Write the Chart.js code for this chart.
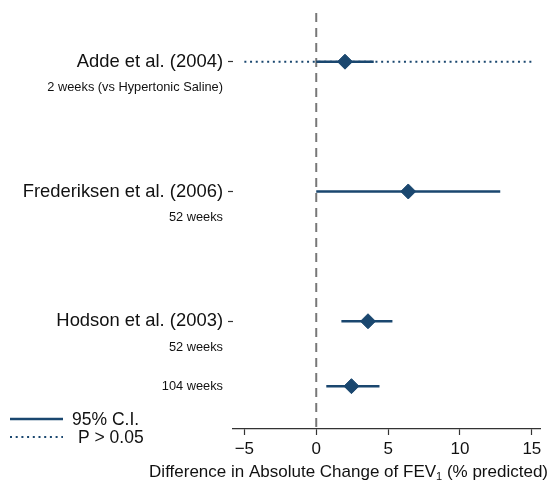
<!DOCTYPE html>
<html>
<head>
<meta charset="utf-8">
<script src="https://cdn.jsdelivr.net/npm/chart.js@4/dist/chart.umd.min.js"></script>
<style>
  html, body { margin: 0; padding: 0; background: #fff; }
  canvas { display: block; }
</style>
</head>
<body>
<canvas id="forest" width="549" height="482"></canvas>
<script>
// ---- data -------------------------------------------------------------
const studies      = ['Adde et al. (2004)', 'Frederiksen et al. (2006)', 'Hodson et al. (2003)'];
const studyRow     = [0, 2, 4];
const subgroups    = ['2 weeks (vs Hypertonic Saline)', '52 weeks', '52 weeks', '104 weeks'];
const subgroupRow  = [0.4, 2.4, 4.4, 5];

// one estimate per row
const estimateRow  = [0, 2, 4, 5];
const estimate     = [2.0, 6.4, 3.6, 2.45];
const ciLow        = [0.0, 0.0, 1.75, 0.7];
const ciHigh       = [4.0, 12.8, 5.3, 4.4];

// non-significant interval (dotted)
const nsRow        = [0];
const nsLow        = [-5];
const nsHigh       = [15];

const xTicks       = [-5, 0, 5, 10, 15];
const keyLabels    = ['95% C.I.', 'P > 0.05'];
const xTitle       = ['Difference in Absolute Change of FEV', '1', ' (% predicted)'];

// ---- styling ----------------------------------------------------------
const NAVY = '#1a476f';
const INK = '#111';
const FONT = "'Liberation Sans', Arial, Helvetica, sans-serif";
const Y_MIN = -0.75, Y_MAX = 5.66;

function segments(rows, lo, hi) {
  const pts = [];
  rows.forEach((r, i) => {
    pts.push({ x: lo[i], y: r }, { x: hi[i], y: r }, { x: null, y: null });
  });
  return pts;
}

const datasets = [
  {
    label: 'zero',
    data: [{ x: 0, y: Y_MIN }, { x: 0, y: Y_MAX }],
    showLine: true, pointRadius: 0,
    borderColor: '#777', borderWidth: 2, borderDash: [9, 6],
    order: 4
  },
  {
    label: keyLabels[1],
    data: segments(nsRow, nsLow, nsHigh),
    showLine: true, spanGaps: false, pointRadius: 0,
    borderColor: NAVY, borderWidth: 2, borderDash: [2, 3.7],
    order: 3
  },
  {
    label: keyLabels[0],
    data: segments(estimateRow, ciLow, ciHigh),
    showLine: true, spanGaps: false, pointRadius: 0,
    borderColor: NAVY, borderWidth: 2.5,
    order: 2
  },
  {
    label: 'estimate',
    data: estimateRow.map((r, i) => ({ x: estimate[i], y: r })),
    showLine: false,
    pointStyle: 'rectRot', pointRadius: 7.5, pointHoverRadius: 7.5,
    backgroundColor: NAVY, borderColor: NAVY, borderWidth: 1,
    order: 1
  }
];

const yTickValues = [...studyRow, ...subgroupRow].sort((a, b) => a - b);
const isStudyTick = v => studyRow.includes(v);
function yLabel(v) {
  const s = studyRow.indexOf(v);
  if (s >= 0) return studies[s];
  const g = subgroupRow.indexOf(v);
  return g >= 0 ? subgroups[g] : '';
}

// key in the lower-left corner, using the styles of the two interval datasets,
// plus the x-axis title (right-aligned, with a subscript)
const annotatePlugin = {
  id: 'annotate',
  afterDraw(chart) {
    const ctx = chart.ctx;
    const entries = [chart.data.datasets[2], chart.data.datasets[1]];
    const rowsY = [419, 437];
    ctx.save();
    entries.forEach((ds, i) => {
      ctx.beginPath();
      ctx.strokeStyle = ds.borderColor;
      ctx.lineWidth = ds.borderWidth;
      ctx.setLineDash(ds.borderDash || []);
      ctx.moveTo(10, rowsY[i]);
      ctx.lineTo(63, rowsY[i]);
      ctx.stroke();
      ctx.setLineDash([]);
      ctx.fillStyle = INK;
      ctx.font = '17.5px ' + FONT;
      ctx.textBaseline = 'middle';
      ctx.textAlign = 'left';
      ctx.fillText(ds.label, i === 0 ? 72 : 78, rowsY[i] + 1);
    });

    // axis title
    const big = '17px ' + FONT, small = '11px ' + FONT;
    ctx.textBaseline = 'alphabetic';
    ctx.textAlign = 'left';
    ctx.font = big;
    const w0 = ctx.measureText(xTitle[0]).width;
    const w2 = ctx.measureText(xTitle[2]).width;
    ctx.font = small;
    const w1 = ctx.measureText(xTitle[1]).width;
    const right = 548, base = 477;
    let x = right - (w0 + w1 + w2);
    ctx.font = big;
    ctx.fillText(xTitle[0], x, base);
    x += w0;
    ctx.font = small;
    ctx.fillText(xTitle[1], x, base + 3);
    x += w1;
    ctx.font = big;
    ctx.fillText(xTitle[2], x, base);
    ctx.restore();
  }
};

new Chart(document.getElementById('forest'), {
  type: 'scatter',
  data: { datasets },
  plugins: [annotatePlugin],
  options: {
    responsive: false,
    animation: false,
    events: [],
    layout: { padding: { top: 13, right: 3, left: 0, bottom: 0 } },
    plugins: { legend: { display: false }, tooltip: { enabled: false } },
    scales: {
      x: {
        type: 'linear', min: -5.79, max: 15.6,
        afterBuildTicks: s => { s.ticks = xTicks.map(v => ({ value: v })); },
        afterFit: s => { s.height = 53; },
        border: { color: '#333', width: 1.3 },
        grid: { drawOnChartArea: false, tickLength: 6, tickColor: '#333', tickWidth: 1.2 },
        ticks: {
          autoSkip: false, maxRotation: 0, padding: 4,
          color: INK, font: { family: FONT, size: 17 },
          callback: v => (v < 0 ? '\u2212' + Math.abs(v) : String(v))
        }
      },
      y: {
        type: 'linear', reverse: true, min: Y_MIN, max: Y_MAX,
        afterBuildTicks: s => { s.ticks = yTickValues.map(v => ({ value: v })); },
        afterFit: s => { s.width = 233; },
        border: { display: false },
        grid: {
          drawOnChartArea: false, tickLength: 5, tickWidth: 1.2,
          tickColor: c => (c.tick && isStudyTick(c.tick.value) ? '#333' : 'rgba(0,0,0,0)')
        },
        ticks: {
          autoSkip: false, padding: 5, color: INK,
          font: c => ({ family: FONT, size: c.tick && isStudyTick(c.tick.value) ? 18.4 : 12.8 }),
          callback: v => yLabel(v)
        }
      }
    }
  }
});
</script>
</body>
</html>
